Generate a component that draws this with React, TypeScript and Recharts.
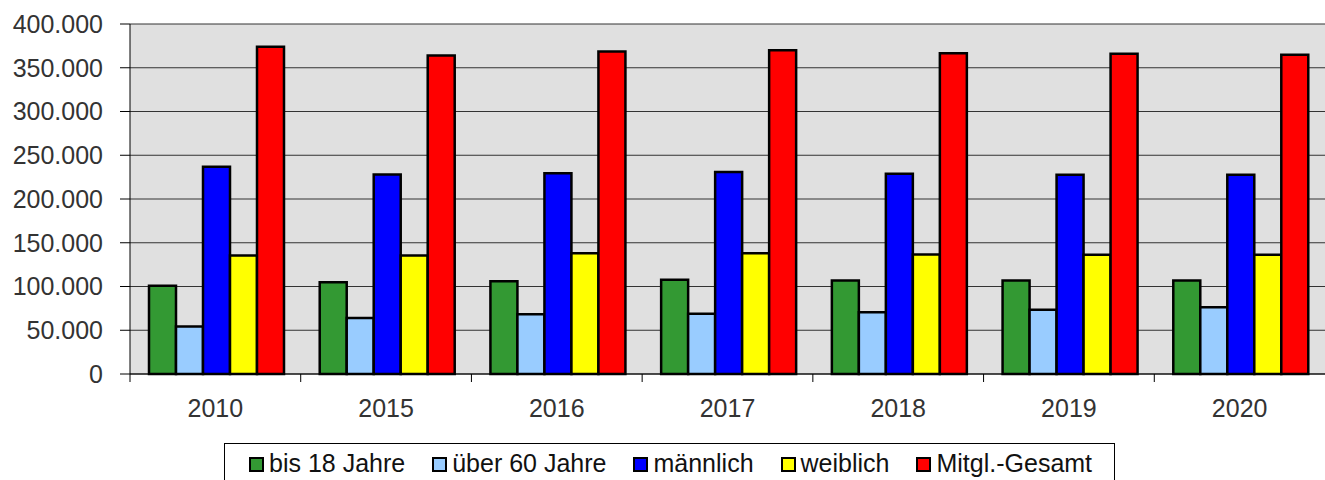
import { Bar, BarChart, CartesianGrid, Legend, XAxis, YAxis } from "recharts"

const years = ["2010", "2015", "2016", "2017", "2018", "2019", "2020"]
const bis18 = [100800, 105000, 106000, 107700, 106900, 106900, 107000]
const ueber60 = [54300, 64000, 68400, 69000, 70600, 73400, 76300]
const maennlich = [237000, 228000, 229500, 231000, 228800, 227700, 227700]
const weiblich = [135400, 135500, 138000, 138000, 136600, 136200, 136200]
const gesamt = [374000, 364000, 368600, 370000, 366600, 366000, 365000]
const yTicks = [0, 50000, 100000, 150000, 200000, 250000, 300000, 350000, 400000]

const series = [
  { key: "bis18", name: "bis 18 Jahre", color: "#339933" },
  { key: "ueber60", name: "über 60 Jahre", color: "#99ccff" },
  { key: "maennlich", name: "männlich", color: "#0000ff" },
  { key: "weiblich", name: "weiblich", color: "#ffff00" },
  { key: "gesamt", name: "Mitgl.-Gesamt", color: "#ff0000" },
]

const data = years.map((year, i) => ({
  year,
  bis18: bis18[i],
  ueber60: ueber60[i],
  maennlich: maennlich[i],
  weiblich: weiblich[i],
  gesamt: gesamt[i],
}))

const fontFamily = "'Liberation Sans', Arial, sans-serif"

const formatDe = (v: number) => String(v).replace(/\B(?=(\d{3})+(?!\d))/g, ".")

function YearTick(props: any) {
  const { x, y, payload } = props
  const half = payload?.offset ?? 0
  return (
    <g>
      <line x1={x - half} x2={x - half} y1={y} y2={y + 8} stroke="#000" strokeWidth={1} />
      <text x={x} y={y + 43} textAnchor="middle" fill="#333" fontSize={25} fontFamily={fontFamily}>
        {payload.value}
      </text>
    </g>
  )
}

function LegendBox() {
  return (
    <div style={{ position: "relative", width: 1325, height: 56 }}>
      <div
        style={{
          position: "absolute",
          left: 224,
          top: 19,
          width: 891,
          height: 40,
          boxSizing: "border-box",
          border: "1px solid #000",
          display: "flex",
          alignItems: "center",
          paddingLeft: 24,
          gap: 27,
          fontFamily,
          fontSize: 25,
          color: "#111",
        }}
      >
        {series.map((s) => (
          <div key={s.key} style={{ display: "flex", alignItems: "center", whiteSpace: "nowrap" }}>
            <span
              style={{
                display: "inline-block",
                width: 15,
                height: 15,
                boxSizing: "border-box",
                border: "2px solid #000",
                background: s.color,
                marginRight: 5,
                marginTop: 3,
              }}
            />
            <span>{s.name}</span>
          </div>
        ))}
      </div>
    </div>
  )
}

export default function App() {
  return (
    <div style={{ position: "absolute", left: 0, top: 0, width: 1325, height: 480, overflow: "hidden", background: "#fff" }}>
      <BarChart
        width={1325}
        height={480}
        data={data}
        margin={{ top: 24, right: 0, bottom: 0, left: 0 }}
        barCategoryGap={19}
        barGap={0}
      >
        <CartesianGrid vertical={false} fill="#e0e0e0" stroke="#333" strokeWidth={1} fillOpacity={1} />
        <XAxis
          dataKey="year"
          height={50}
          axisLine={{ stroke: "#000", strokeWidth: 1 }}
          tickLine={false}
          tickSize={0}
          tickMargin={0}
          tick={<YearTick />}
          interval={0}
        />
        <YAxis
          width={130}
          domain={[0, 400000]}
          ticks={yTicks}
          tickFormatter={formatDe}
          axisLine={{ stroke: "#000", strokeWidth: 1 }}
          tickLine={{ stroke: "#000" }}
          tickSize={10}
          tickMargin={17}
          tick={{ fill: "#333", fontSize: 25, fontFamily }}
          interval={0}
        />
        <Legend verticalAlign="bottom" height={56} content={() => <LegendBox />} wrapperStyle={{ left: 0, bottom: 0 }} />
        {series.map((s) => (
          <Bar key={s.key} dataKey={s.key} name={s.name} fill={s.color} stroke="#000" strokeWidth={2.5} isAnimationActive={false} />
        ))}
      </BarChart>
    </div>
  )
}
